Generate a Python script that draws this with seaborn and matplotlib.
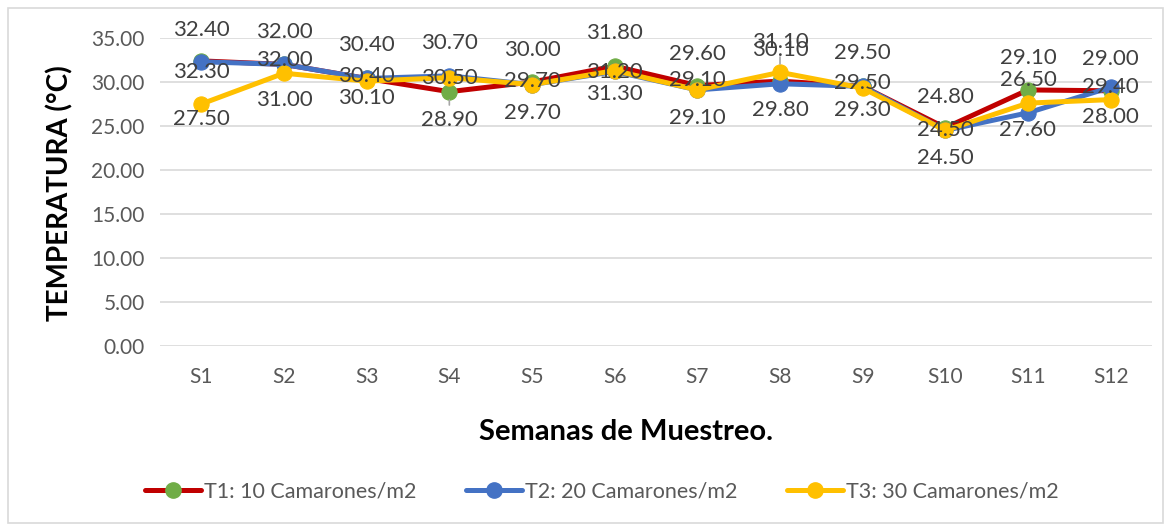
import matplotlib
matplotlib.use("Agg")
import matplotlib.pyplot as plt
from matplotlib.lines import Line2D
from matplotlib.patches import Rectangle
import seaborn as sns
import pandas as pd

# ---------------- data ----------------
semanas = ["S1", "S2", "S3", "S4", "S5", "S6", "S7", "S8", "S9", "S10", "S11", "S12"]
t1 = [32.40, 32.00, 30.40, 28.90, 30.00, 31.80, 29.60, 30.10, 29.50, 24.80, 29.10, 29.00]
t2 = [32.30, 32.00, 30.40, 30.70, 29.70, 31.20, 29.10, 29.80, 29.50, 24.50, 26.50, 29.40]
t3 = [27.50, 31.00, 30.10, 30.50, 29.70, 31.30, 29.10, 31.10, 29.30, 24.50, 27.60, 28.00]
series_names = ["T1: 10 Camarones/m2", "T2: 20 Camarones/m2", "T3: 30 Camarones/m2"]
y_ticks = [0, 5, 10, 15, 20, 25, 30, 35]

# ---------------- label layout (vertical offsets in pixels, + = up) ----------------
off_t1 = [31, 32, 33, -28, 32, 33, 32, 31, 33, 31, 32, 32]
off_t2 = [-10, 4, 2, 33, 4, -1, 10, -26, 3, 0, 33, 0]
off_t3 = [-15, -27, -17, 0, -28, -23, -28, 30, -22, -28, -27, -17]
leaders = {(0, 3), (2, 7)}

line_colors = ["#C00000", "#4472C4", "#FFC000"]
marker_colors = ["#70AD47", "#4472C4", "#FFC000"]

FONT = ["Lato", "DejaVu Sans"]
sns.set_theme(style="white")
plt.rcParams["font.family"] = FONT

df = pd.DataFrame({
    "Semana": semanas * 3,
    "Temp": t1 + t2 + t3,
    "Serie": [series_names[0]] * 12 + [series_names[1]] * 12 + [series_names[2]] * 12,
})

W, H = 1172, 525
fig = plt.figure(figsize=(W / 100, H / 100), dpi=100)
ax = fig.add_axes([160 / W, 1 - 346 / H, (1152 - 160) / W, (346 - 38) / H])

for i, name in enumerate(series_names):
    sub = df[df["Serie"] == name]
    sns.lineplot(data=sub, x="Semana", y="Temp", ax=ax, color=line_colors[i],
                 linewidth=3.6, marker="o", markersize=11,
                 markerfacecolor=marker_colors[i], markeredgecolor=marker_colors[i],
                 sort=False, legend=False, zorder=3 + i)

ax.set_ylim(0, 35)
ax.set_xlim(-0.5, len(semanas) - 0.5)
ax.set_yticks(y_ticks)
ax.set_yticklabels([f"{v:.2f}" for v in y_ticks])
ax.grid(axis="y", color="#D9D9D9", linewidth=1.2)
ax.grid(axis="x", visible=False)
ax.set_axisbelow(True)
for s in ax.spines.values():
    s.set_visible(False)
ax.tick_params(axis="both", length=0, labelsize=15, labelcolor="#595959")
ax.tick_params(axis="y", pad=11)
ax.tick_params(axis="x", pad=15)
ax.set_xlabel("")
ax.set_ylabel("")

# data labels
all_vals = [t1, t2, t3]
all_offs = [off_t1, off_t2, off_t3]
for si in range(3):
    for j, (v, o) in enumerate(zip(all_vals[si], all_offs[si])):
        kw = {}
        if (si, j) in leaders:
            kw["arrowprops"] = dict(arrowstyle="-", color="#A6A6A6", lw=1.2,
                                    relpos=(0.5, 1.0) if o < 0 else (0.5, 0.0),
                                    shrinkA=1, shrinkB=6)
        ax.annotate(f"{v:.2f}", xy=(j, v), xytext=(0, o), textcoords="offset pixels",
                    ha="center", va="center", fontsize=16, color="#404040",
                    zorder=10, **kw)

# axis titles
fig.text(60 / W, 1 - 193 / H, "TEMPERATURA (°C)", rotation=90, ha="center", va="center",
         fontsize=20, fontweight="bold", color="black")
fig.text(626 / W, 1 - 432 / H, "Semanas de Muestreo.", ha="center", va="center",
         fontsize=21, fontweight="bold", color="black")

# legend
handles = [Line2D([0], [0], color=line_colors[i], lw=3.6, marker="o", markersize=11,
                  markerfacecolor=marker_colors[i], markeredgecolor=marker_colors[i])
           for i in range(3)]
leg = fig.legend(handles, series_names, loc="center", bbox_to_anchor=(602 / W, 1 - 492 / H),
                 ncol=3, frameon=False, fontsize=15.5, handlelength=2.6, handletextpad=0.15,
                 columnspacing=2.3)
for t in leg.get_texts():
    t.set_color("#595959")

# chart border
fig.patches.append(Rectangle((8 / W, 2 / H), (1163 - 8) / W, (517 - 2) / H,
                             transform=fig.transFigure, fill=False,
                             edgecolor="#D9D9D9", linewidth=1.2))

fig.savefig("out.png", dpi=100)
